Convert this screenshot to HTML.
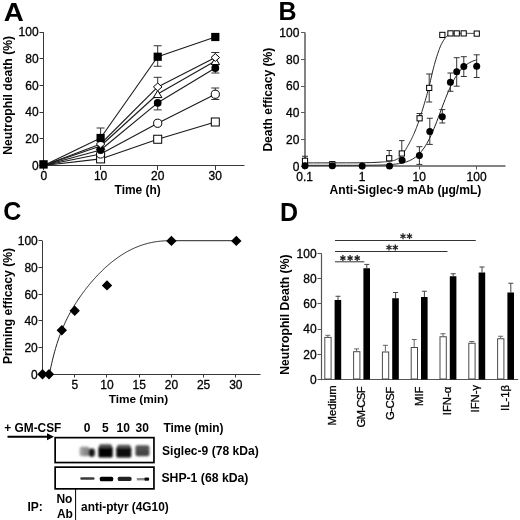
<!DOCTYPE html>
<html><head><meta charset="utf-8"><style>
html,body{margin:0;padding:0;background:#fff;}
svg{display:block;will-change:transform;}
text{font-family:"Liberation Sans", sans-serif;fill:#000;}
</style></head><body>
<svg width="520" height="520" viewBox="0 0 520 520">
<rect width="520" height="520" fill="#fff"/>
<text x="0" y="0" font-size="25" font-weight="bold" transform="translate(3.79,20.8) scale(1.11,1)">A</text>
<text x="0" y="0" font-size="25" font-weight="bold" transform="translate(278.50,19.6) scale(1.0,1)">B</text>
<text x="0" y="0" font-size="25" font-weight="bold" transform="translate(3.30,219.8) scale(1.0,1)">C</text>
<text x="0" y="0" font-size="25" font-weight="bold" transform="translate(279.90,221.1) scale(1.0,1)">D</text>
<text x="114.60" y="194.40" font-size="11.95" font-weight="bold" text-anchor="start" >Time (h)</text>
<text x="329.60" y="193.90" font-size="12.13" font-weight="bold" text-anchor="start" >Anti-Siglec-9 mAb (µg/mL)</text>
<text x="108.70" y="402.80" font-size="11.84" font-weight="bold" text-anchor="start" >Time (min)</text>
<text x="4.30" y="431.85" font-size="11.89" font-weight="bold" text-anchor="start" >+ GM-CSF</text>
<text x="163.50" y="432.20" font-size="11.92" font-weight="bold" text-anchor="start" >Time (min)</text>
<text x="162.00" y="455.10" font-size="12.09" font-weight="bold" text-anchor="start" >Siglec-9 (78 kDa)</text>
<text x="161.40" y="482.30" font-size="12.24" font-weight="bold" text-anchor="start" >SHP-1 (68 kDa)</text>
<text x="27.40" y="510.50" font-size="12.00" font-weight="bold" text-anchor="start" >IP:</text>
<text x="56.40" y="502.70" font-size="12.00" font-weight="bold" text-anchor="start" >No</text>
<text x="56.90" y="517.70" font-size="12.00" font-weight="bold" text-anchor="start" >Ab</text>
<text x="81.10" y="511.00" font-size="11.86" font-weight="bold" text-anchor="start" >anti-ptyr (4G10)</text>
<text x="0" y="0" font-size="12.17" font-weight="bold"  transform="translate(11.90,154.80) rotate(-90)">Neutrophil death (%)</text>
<text x="0" y="0" font-size="12.06" font-weight="bold"  transform="translate(272.10,151.60) rotate(-90)">Death efficacy (%)</text>
<text x="0" y="0" font-size="12.16" font-weight="bold"  transform="translate(12.10,364.10) rotate(-90)">Priming efficacy (%)</text>
<text x="0" y="0" font-size="12.16" font-weight="bold"  transform="translate(289.10,374.70) rotate(-90)">Neutrophil Death (%)</text>
<text x="0" y="0" font-size="11.3" font-weight="normal" stroke="#000" stroke-width="0.3" transform="translate(335.50,425.50) rotate(-90)">Medium</text>
<text x="0" y="0" font-size="11.3" font-weight="normal" stroke="#000" stroke-width="0.3" textLength="41.07" lengthAdjust="spacing" transform="translate(365.20,427.50) rotate(-90)">GM-CSF</text>
<text x="0" y="0" font-size="11.3" font-weight="normal" stroke="#000" stroke-width="0.3" textLength="33.15" lengthAdjust="spacing" transform="translate(393.80,420.00) rotate(-90)">G-CSF</text>
<text x="0" y="0" font-size="11.3" font-weight="normal" stroke="#000" stroke-width="0.3" transform="translate(422.50,406.00) rotate(-90)">MIF</text>
<text x="0" y="0" font-size="11.3" font-weight="normal" stroke="#000" stroke-width="0.3" transform="translate(451.40,415.20) rotate(-90)">IFN-α</text>
<text x="0" y="0" font-size="11.3" font-weight="normal" stroke="#000" stroke-width="0.3" transform="translate(479.40,412.50) rotate(-90)">IFN-γ</text>
<text x="0" y="0" font-size="11.3" font-weight="normal" stroke="#000" stroke-width="0.3" transform="translate(509.10,411.00) rotate(-90)">IL-1β</text>
<line x1="43.50" y1="32.10" x2="43.50" y2="166.00" stroke="#383838" stroke-width="1"/>
<line x1="43.00" y1="165.50" x2="244.50" y2="165.50" stroke="#383838" stroke-width="1"/>
<line x1="39.50" y1="165.50" x2="43.50" y2="165.50" stroke="#383838" stroke-width="1"/>
<text x="38.60" y="169.80" font-size="12.00" font-weight="normal" text-anchor="end" stroke="#000" stroke-width="0.3">0</text>
<line x1="39.50" y1="138.50" x2="43.50" y2="138.50" stroke="#383838" stroke-width="1"/>
<text x="38.60" y="143.12" font-size="12.00" font-weight="normal" text-anchor="end" stroke="#000" stroke-width="0.3">20</text>
<line x1="39.50" y1="112.50" x2="43.50" y2="112.50" stroke="#383838" stroke-width="1"/>
<text x="38.60" y="116.44" font-size="12.00" font-weight="normal" text-anchor="end" stroke="#000" stroke-width="0.3">40</text>
<line x1="39.50" y1="85.50" x2="43.50" y2="85.50" stroke="#383838" stroke-width="1"/>
<text x="38.60" y="89.76" font-size="12.00" font-weight="normal" text-anchor="end" stroke="#000" stroke-width="0.3">60</text>
<line x1="39.50" y1="58.50" x2="43.50" y2="58.50" stroke="#383838" stroke-width="1"/>
<text x="38.60" y="63.08" font-size="12.00" font-weight="normal" text-anchor="end" stroke="#000" stroke-width="0.3">80</text>
<line x1="39.50" y1="32.50" x2="43.50" y2="32.50" stroke="#383838" stroke-width="1"/>
<text x="38.60" y="36.40" font-size="12.00" font-weight="normal" text-anchor="end" stroke="#000" stroke-width="0.3">100</text>
<line x1="43.50" y1="165.50" x2="43.50" y2="170.00" stroke="#383838" stroke-width="1"/>
<text x="43.75" y="180.30" font-size="12.00" font-weight="normal" text-anchor="middle" stroke="#000" stroke-width="0.3">0</text>
<line x1="100.50" y1="165.50" x2="100.50" y2="170.00" stroke="#383838" stroke-width="1"/>
<text x="100.60" y="180.30" font-size="12.00" font-weight="normal" text-anchor="middle" stroke="#000" stroke-width="0.3">10</text>
<line x1="157.50" y1="165.50" x2="157.50" y2="170.00" stroke="#383838" stroke-width="1"/>
<text x="157.70" y="180.30" font-size="12.00" font-weight="normal" text-anchor="middle" stroke="#000" stroke-width="0.3">20</text>
<line x1="215.50" y1="165.50" x2="215.50" y2="170.00" stroke="#383838" stroke-width="1"/>
<text x="215.30" y="180.30" font-size="12.00" font-weight="normal" text-anchor="middle" stroke="#000" stroke-width="0.3">30</text>
<line x1="43.75" y1="165.50" x2="100.60" y2="138.00" stroke="#1a1a1a" stroke-width="1.1"/>
<line x1="100.60" y1="138.00" x2="157.70" y2="56.75" stroke="#1a1a1a" stroke-width="1.1"/>
<line x1="157.70" y1="56.75" x2="215.30" y2="37.00" stroke="#1a1a1a" stroke-width="1.1"/>
<line x1="43.75" y1="165.50" x2="100.60" y2="144.00" stroke="#1a1a1a" stroke-width="1.1"/>
<line x1="100.60" y1="144.00" x2="157.70" y2="86.90" stroke="#1a1a1a" stroke-width="1.1"/>
<line x1="157.70" y1="86.90" x2="215.30" y2="57.50" stroke="#1a1a1a" stroke-width="1.1"/>
<line x1="43.75" y1="165.50" x2="100.60" y2="146.00" stroke="#1a1a1a" stroke-width="1.1"/>
<line x1="100.60" y1="146.00" x2="157.70" y2="94.00" stroke="#1a1a1a" stroke-width="1.1"/>
<line x1="157.70" y1="94.00" x2="215.30" y2="61.00" stroke="#1a1a1a" stroke-width="1.1"/>
<line x1="43.75" y1="165.50" x2="100.60" y2="150.00" stroke="#1a1a1a" stroke-width="1.1"/>
<line x1="100.60" y1="150.00" x2="157.70" y2="102.80" stroke="#1a1a1a" stroke-width="1.1"/>
<line x1="157.70" y1="102.80" x2="215.30" y2="68.00" stroke="#1a1a1a" stroke-width="1.1"/>
<line x1="43.75" y1="165.50" x2="100.60" y2="154.00" stroke="#1a1a1a" stroke-width="1.1"/>
<line x1="100.60" y1="154.00" x2="157.70" y2="123.25" stroke="#1a1a1a" stroke-width="1.1"/>
<line x1="157.70" y1="123.25" x2="215.30" y2="94.25" stroke="#1a1a1a" stroke-width="1.1"/>
<line x1="43.75" y1="165.50" x2="100.60" y2="158.90" stroke="#1a1a1a" stroke-width="1.1"/>
<line x1="100.60" y1="158.90" x2="157.70" y2="139.25" stroke="#1a1a1a" stroke-width="1.1"/>
<line x1="157.70" y1="139.25" x2="215.30" y2="122.00" stroke="#1a1a1a" stroke-width="1.1"/>
<line x1="100.60" y1="128.00" x2="100.60" y2="138.00" stroke="#333" stroke-width="1"/>
<line x1="96.60" y1="128.00" x2="104.60" y2="128.00" stroke="#333" stroke-width="1"/>
<line x1="157.70" y1="45.75" x2="157.70" y2="56.75" stroke="#333" stroke-width="1"/>
<line x1="153.70" y1="45.75" x2="161.70" y2="45.75" stroke="#333" stroke-width="1"/>
<line x1="157.70" y1="56.75" x2="157.70" y2="66.25" stroke="#333" stroke-width="1"/>
<line x1="153.70" y1="66.25" x2="161.70" y2="66.25" stroke="#333" stroke-width="1"/>
<line x1="157.70" y1="77.30" x2="157.70" y2="86.90" stroke="#333" stroke-width="1"/>
<line x1="153.70" y1="77.30" x2="161.70" y2="77.30" stroke="#333" stroke-width="1"/>
<line x1="157.70" y1="102.80" x2="157.70" y2="109.90" stroke="#333" stroke-width="1"/>
<line x1="153.70" y1="109.90" x2="161.70" y2="109.90" stroke="#333" stroke-width="1"/>
<line x1="215.30" y1="52.50" x2="215.30" y2="57.50" stroke="#333" stroke-width="1"/>
<line x1="211.30" y1="52.50" x2="219.30" y2="52.50" stroke="#333" stroke-width="1"/>
<line x1="215.30" y1="68.00" x2="215.30" y2="73.00" stroke="#333" stroke-width="1"/>
<line x1="211.30" y1="73.00" x2="219.30" y2="73.00" stroke="#333" stroke-width="1"/>
<line x1="215.30" y1="88.00" x2="215.30" y2="94.25" stroke="#333" stroke-width="1"/>
<line x1="211.30" y1="88.00" x2="219.30" y2="88.00" stroke="#333" stroke-width="1"/>
<line x1="215.30" y1="94.25" x2="215.30" y2="99.50" stroke="#333" stroke-width="1"/>
<line x1="211.30" y1="99.50" x2="219.30" y2="99.50" stroke="#333" stroke-width="1"/>
<rect x="96.60" y="154.90" width="8" height="8" fill="#fff" stroke="#000" stroke-width="1"/>
<rect x="153.70" y="135.25" width="8" height="8" fill="#fff" stroke="#000" stroke-width="1"/>
<rect x="211.30" y="118.00" width="8" height="8" fill="#fff" stroke="#000" stroke-width="1"/>
<circle cx="100.60" cy="154.00" r="4.1" fill="#fff" stroke="#000" stroke-width="1"/>
<circle cx="157.70" cy="123.25" r="4.1" fill="#fff" stroke="#000" stroke-width="1"/>
<circle cx="215.30" cy="94.25" r="4.1" fill="#fff" stroke="#000" stroke-width="1"/>
<polygon points="100.60,142.40 104.80,149.60 96.40,149.60" fill="#fff" stroke="#000" stroke-width="1"/>
<polygon points="157.70,90.40 161.90,97.60 153.50,97.60" fill="#fff" stroke="#000" stroke-width="1"/>
<polygon points="215.30,57.40 219.50,64.60 211.10,64.60" fill="#fff" stroke="#000" stroke-width="1"/>
<circle cx="100.60" cy="150.00" r="3.9" fill="#000"/>
<circle cx="157.70" cy="102.80" r="3.9" fill="#000"/>
<circle cx="215.30" cy="68.00" r="3.9" fill="#000"/>
<polygon points="100.60,140.10 104.90,144.00 100.60,147.90 96.30,144.00" fill="#fff" stroke="#000" stroke-width="1"/>
<polygon points="157.70,83.00 162.00,86.90 157.70,90.80 153.40,86.90" fill="#fff" stroke="#000" stroke-width="1"/>
<polygon points="215.30,53.60 219.60,57.50 215.30,61.40 211.00,57.50" fill="#fff" stroke="#000" stroke-width="1"/>
<rect x="96.50" y="133.90" width="8.2" height="8.2" fill="#000"/>
<rect x="153.60" y="52.65" width="8.2" height="8.2" fill="#000"/>
<rect x="211.20" y="32.90" width="8.2" height="8.2" fill="#000"/>
<rect x="39.30" y="160.20" width="8.4" height="8.4" fill="#000"/>
<line x1="305.00" y1="32.50" x2="305.00" y2="166.80" stroke="#5a5a5a" stroke-width="1.5"/>
<line x1="304.30" y1="166.00" x2="505.50" y2="166.00" stroke="#5a5a5a" stroke-width="1.5"/>
<line x1="301.00" y1="166.50" x2="305.00" y2="166.50" stroke="#5a5a5a" stroke-width="1"/>
<text x="299.40" y="170.55" font-size="12.00" font-weight="normal" text-anchor="end" stroke="#000" stroke-width="0.3">0</text>
<line x1="301.00" y1="139.50" x2="305.00" y2="139.50" stroke="#5a5a5a" stroke-width="1"/>
<text x="299.40" y="143.80" font-size="12.00" font-weight="normal" text-anchor="end" stroke="#000" stroke-width="0.3">20</text>
<line x1="301.00" y1="112.50" x2="305.00" y2="112.50" stroke="#5a5a5a" stroke-width="1"/>
<text x="299.40" y="117.05" font-size="12.00" font-weight="normal" text-anchor="end" stroke="#000" stroke-width="0.3">40</text>
<line x1="301.00" y1="86.50" x2="305.00" y2="86.50" stroke="#5a5a5a" stroke-width="1"/>
<text x="299.40" y="90.30" font-size="12.00" font-weight="normal" text-anchor="end" stroke="#000" stroke-width="0.3">60</text>
<line x1="301.00" y1="59.50" x2="305.00" y2="59.50" stroke="#5a5a5a" stroke-width="1"/>
<text x="299.40" y="63.55" font-size="12.00" font-weight="normal" text-anchor="end" stroke="#000" stroke-width="0.3">80</text>
<line x1="301.00" y1="32.50" x2="305.00" y2="32.50" stroke="#5a5a5a" stroke-width="1"/>
<text x="299.40" y="36.80" font-size="12.00" font-weight="normal" text-anchor="end" stroke="#000" stroke-width="0.3">100</text>
<line x1="304.50" y1="166.00" x2="304.50" y2="169.50" stroke="#5a5a5a" stroke-width="1"/>
<text x="304.70" y="180.60" font-size="12.00" font-weight="normal" text-anchor="middle" stroke="#000" stroke-width="0.3">0.1</text>
<line x1="362.50" y1="166.00" x2="362.50" y2="169.50" stroke="#5a5a5a" stroke-width="1"/>
<text x="362.00" y="180.60" font-size="12.00" font-weight="normal" text-anchor="middle" stroke="#000" stroke-width="0.3">1</text>
<line x1="419.50" y1="166.00" x2="419.50" y2="169.50" stroke="#5a5a5a" stroke-width="1"/>
<text x="419.30" y="180.60" font-size="12.00" font-weight="normal" text-anchor="middle" stroke="#000" stroke-width="0.3">10</text>
<line x1="476.50" y1="166.00" x2="476.50" y2="169.50" stroke="#5a5a5a" stroke-width="1"/>
<text x="476.60" y="180.60" font-size="12.00" font-weight="normal" text-anchor="middle" stroke="#000" stroke-width="0.3">100</text>
<polyline points="305.00,162.90 313.33,162.90 321.67,162.89 330.00,162.88 338.33,162.87 346.67,162.85 355.00,162.83 363.33,162.79 371.67,162.58 380.00,162.15 381.00,162.08 381.48,162.05 381.96,162.02 382.44,161.99 382.92,161.95 383.41,161.92 383.89,161.88 384.37,161.85 384.85,161.81 385.33,161.77 385.81,161.73 386.29,161.69 386.77,161.64 387.26,161.59 387.74,161.54 388.22,161.48 388.70,161.41 389.18,161.34 389.66,161.27 390.14,161.19 390.62,161.11 391.10,161.02 391.59,160.93 392.07,160.83 392.55,160.72 393.03,160.61 393.51,160.50 393.99,160.38 394.47,160.25 394.95,160.11 395.43,159.96 395.92,159.77 396.40,159.54 396.88,159.27 397.36,158.97 397.84,158.65 398.32,158.30 398.80,157.92 399.28,157.53 399.77,157.11 400.25,156.68 400.73,156.24 401.21,155.78 401.69,155.31 402.17,154.79 402.65,154.21 403.13,153.59 403.61,152.91 404.10,152.20 404.58,151.45 405.06,150.67 405.54,149.86 406.02,149.04 406.50,148.20 406.98,147.36 407.46,146.51 407.94,145.67 408.43,144.83 408.91,143.97 409.39,143.09 409.87,142.20 410.35,141.28 410.83,140.35 411.31,139.39 411.79,138.41 412.28,137.42 412.76,136.40 413.24,135.36 413.72,134.30 414.20,133.22 414.68,132.11 415.16,130.97 415.64,129.79 416.12,128.57 416.61,127.31 417.09,126.02 417.57,124.71 418.05,123.36 418.53,122.00 419.01,120.62 419.49,119.22 419.97,117.80 420.45,116.33 420.94,114.82 421.42,113.29 421.90,111.73 422.38,110.15 422.86,108.56 423.34,106.96 423.82,105.36 424.30,103.74 424.79,102.10 425.27,100.44 425.75,98.77 426.23,97.08 426.71,95.38 427.19,93.66 427.67,91.95 428.15,90.23 428.63,88.46 429.12,86.62 429.60,84.69 430.08,82.61 430.56,80.43 431.04,78.22 431.52,76.05 432.00,73.99 432.48,72.03 432.96,70.11 433.45,68.23 433.93,66.40 434.41,64.62 434.89,62.89 435.37,61.21 435.85,59.56 436.33,57.95 436.81,56.39 437.30,54.88 437.78,53.44 438.26,52.07 438.74,50.72 439.22,49.41 439.70,48.13 440.18,46.92 440.66,45.78 441.14,44.72 441.63,43.76 442.11,42.85 442.59,41.99 443.07,41.17 443.55,40.39 444.03,39.66 444.51,38.97 444.99,38.33 445.47,37.74 445.96,37.20 446.44,36.68 446.92,36.20 447.40,35.75 447.88,35.33 448.36,34.96 448.84,34.64 449.32,34.34 449.81,34.05 450.29,33.80 450.77,33.64 451.25,33.58 451.73,33.53 452.21,33.50 452.69,33.47 453.17,33.44 453.65,33.42 454.14,33.41 454.62,33.40 455.10,33.40 455.58,33.40 456.06,33.40 456.54,33.40 457.02,33.40 457.50,33.40 457.98,33.40 458.47,33.40 458.95,33.40 459.43,33.40 459.91,33.40 460.39,33.40 460.87,33.40 461.35,33.40 461.83,33.40 462.32,33.40 462.80,33.40 463.28,33.40 463.76,33.40 464.24,33.40 464.72,33.40 465.20,33.40 465.68,33.40 466.16,33.40 466.65,33.40 467.13,33.40 467.61,33.40 468.09,33.40 468.57,33.40 469.05,33.40 469.53,33.40 470.01,33.40 470.49,33.40 470.98,33.40 471.46,33.40 471.94,33.40 472.42,33.40 472.90,33.40 473.38,33.40 473.86,33.40 474.34,33.40 474.83,33.40 475.31,33.40 475.79,33.40 476.27,33.40 476.75,33.40" fill="none" stroke="#222" stroke-width="1"/>
<polyline points="305.00,165.31 306.43,165.31 307.87,165.31 309.30,165.31 310.73,165.31 312.17,165.31 313.60,165.31 315.03,165.31 316.47,165.31 317.90,165.31 319.33,165.31 320.77,165.31 322.20,165.31 323.63,165.31 325.07,165.31 326.50,165.31 327.93,165.31 329.37,165.31 330.80,165.31 332.23,165.31 333.67,165.31 335.10,165.31 336.53,165.31 337.97,165.31 339.40,165.31 340.83,165.31 342.27,165.31 343.70,165.31 345.13,165.31 346.57,165.30 348.00,165.30 349.43,165.30 350.87,165.30 352.30,165.30 353.73,165.29 355.17,165.29 356.60,165.29 358.03,165.28 359.47,165.28 360.90,165.27 362.33,165.27 363.77,165.26 365.20,165.25 366.63,165.24 368.07,165.23 369.50,165.22 370.93,165.21 372.37,165.19 373.80,165.17 375.23,165.15 376.67,165.13 378.10,165.10 379.53,165.06 380.97,165.03 382.40,164.98 383.83,164.93 385.27,164.87 386.70,164.81 388.13,164.73 389.57,164.64 391.00,164.54 392.43,164.42 393.87,164.29 395.30,164.13 396.73,163.95 398.17,163.75 399.60,163.51 401.03,163.24 402.47,162.94 403.90,162.58 405.33,162.18 406.77,161.71 408.20,161.18 409.63,160.58 411.07,159.89 412.50,159.11 413.93,158.22 415.37,157.22 416.80,156.08 418.23,154.81 419.67,153.38 421.10,151.78 422.53,150.01 423.97,148.04 425.40,145.87 426.83,143.50 428.27,140.91 429.70,138.12 431.13,135.12 432.57,131.92 434.00,128.55 435.43,125.02 436.87,121.35 438.30,117.59 439.73,113.76 441.17,109.90 442.60,106.06 444.03,102.27 445.47,98.56 446.90,94.97 448.33,91.53 449.77,88.26 451.20,85.19 452.63,82.31 454.07,79.64 455.50,77.19 456.93,74.94 458.37,72.89 459.80,71.04 461.23,69.38 462.67,67.89 464.10,66.55 465.53,65.37 466.97,64.31 468.40,63.38 469.83,62.56 471.27,61.84 472.70,61.20 474.13,60.64 475.57,60.16 477.00,59.73" fill="none" stroke="#222" stroke-width="1"/>
<line x1="305.00" y1="156.25" x2="305.00" y2="160.80" stroke="#333" stroke-width="1"/>
<line x1="302.00" y1="156.25" x2="308.00" y2="156.25" stroke="#333" stroke-width="1"/>
<line x1="389.20" y1="150.50" x2="389.20" y2="158.25" stroke="#333" stroke-width="1"/>
<line x1="386.50" y1="150.50" x2="391.90" y2="150.50" stroke="#333" stroke-width="1"/>
<line x1="401.80" y1="140.60" x2="401.80" y2="153.50" stroke="#333" stroke-width="1"/>
<line x1="399.10" y1="140.60" x2="404.50" y2="140.60" stroke="#333" stroke-width="1"/>
<line x1="419.60" y1="113.50" x2="419.60" y2="118.30" stroke="#333" stroke-width="1"/>
<line x1="416.60" y1="113.50" x2="422.60" y2="113.50" stroke="#333" stroke-width="1"/>
<line x1="429.20" y1="74.00" x2="429.20" y2="87.90" stroke="#333" stroke-width="1"/>
<line x1="426.20" y1="74.00" x2="432.20" y2="74.00" stroke="#333" stroke-width="1"/>
<line x1="429.20" y1="87.90" x2="429.20" y2="102.00" stroke="#333" stroke-width="1"/>
<line x1="426.20" y1="102.00" x2="432.20" y2="102.00" stroke="#333" stroke-width="1"/>
<line x1="419.40" y1="146.70" x2="419.40" y2="155.60" stroke="#333" stroke-width="1"/>
<line x1="416.40" y1="146.70" x2="422.40" y2="146.70" stroke="#333" stroke-width="1"/>
<line x1="419.40" y1="155.60" x2="419.40" y2="164.40" stroke="#333" stroke-width="1"/>
<line x1="416.40" y1="164.40" x2="422.40" y2="164.40" stroke="#333" stroke-width="1"/>
<line x1="429.80" y1="118.25" x2="429.80" y2="131.40" stroke="#333" stroke-width="1"/>
<line x1="426.80" y1="118.25" x2="432.80" y2="118.25" stroke="#333" stroke-width="1"/>
<line x1="429.80" y1="131.40" x2="429.80" y2="144.40" stroke="#333" stroke-width="1"/>
<line x1="426.80" y1="144.40" x2="432.80" y2="144.40" stroke="#333" stroke-width="1"/>
<line x1="442.30" y1="109.60" x2="442.30" y2="116.70" stroke="#333" stroke-width="1"/>
<line x1="439.30" y1="109.60" x2="445.30" y2="109.60" stroke="#333" stroke-width="1"/>
<line x1="442.30" y1="116.70" x2="442.30" y2="123.00" stroke="#333" stroke-width="1"/>
<line x1="439.30" y1="123.00" x2="445.30" y2="123.00" stroke="#333" stroke-width="1"/>
<line x1="450.40" y1="73.00" x2="450.40" y2="82.30" stroke="#333" stroke-width="1"/>
<line x1="447.40" y1="73.00" x2="453.40" y2="73.00" stroke="#333" stroke-width="1"/>
<line x1="450.40" y1="82.30" x2="450.40" y2="91.30" stroke="#333" stroke-width="1"/>
<line x1="447.40" y1="91.30" x2="453.40" y2="91.30" stroke="#333" stroke-width="1"/>
<line x1="456.70" y1="57.70" x2="456.70" y2="71.70" stroke="#333" stroke-width="1"/>
<line x1="453.70" y1="57.70" x2="459.70" y2="57.70" stroke="#333" stroke-width="1"/>
<line x1="456.70" y1="71.70" x2="456.70" y2="86.20" stroke="#333" stroke-width="1"/>
<line x1="453.70" y1="86.20" x2="459.70" y2="86.20" stroke="#333" stroke-width="1"/>
<line x1="463.80" y1="56.70" x2="463.80" y2="66.50" stroke="#333" stroke-width="1"/>
<line x1="460.80" y1="56.70" x2="466.80" y2="56.70" stroke="#333" stroke-width="1"/>
<line x1="463.80" y1="66.50" x2="463.80" y2="76.50" stroke="#333" stroke-width="1"/>
<line x1="460.80" y1="76.50" x2="466.80" y2="76.50" stroke="#333" stroke-width="1"/>
<line x1="476.70" y1="54.80" x2="476.70" y2="66.30" stroke="#333" stroke-width="1"/>
<line x1="473.70" y1="54.80" x2="479.70" y2="54.80" stroke="#333" stroke-width="1"/>
<line x1="476.70" y1="66.30" x2="476.70" y2="77.50" stroke="#333" stroke-width="1"/>
<line x1="473.70" y1="77.50" x2="479.70" y2="77.50" stroke="#333" stroke-width="1"/>
<rect x="302.40" y="158.20" width="5.2" height="5.2" fill="#fff" stroke="#000" stroke-width="1"/>
<rect x="329.70" y="161.60" width="5.2" height="5.2" fill="#fff" stroke="#000" stroke-width="1"/>
<rect x="386.60" y="155.65" width="5.2" height="5.2" fill="#fff" stroke="#000" stroke-width="1"/>
<rect x="399.20" y="150.90" width="5.2" height="5.2" fill="#fff" stroke="#000" stroke-width="1"/>
<rect x="417.00" y="115.70" width="5.2" height="5.2" fill="#fff" stroke="#000" stroke-width="1"/>
<rect x="426.60" y="85.30" width="5.2" height="5.2" fill="#fff" stroke="#000" stroke-width="1"/>
<rect x="439.75" y="32.30" width="5.2" height="5.2" fill="#fff" stroke="#000" stroke-width="1"/>
<rect x="447.85" y="30.80" width="5.2" height="5.2" fill="#fff" stroke="#000" stroke-width="1"/>
<rect x="454.15" y="30.80" width="5.2" height="5.2" fill="#fff" stroke="#000" stroke-width="1"/>
<rect x="461.10" y="30.80" width="5.2" height="5.2" fill="#fff" stroke="#000" stroke-width="1"/>
<rect x="474.15" y="31.00" width="5.2" height="5.2" fill="#fff" stroke="#000" stroke-width="1"/>
<circle cx="305.00" cy="165.80" r="3.5" fill="#000"/>
<circle cx="332.30" cy="165.80" r="3.5" fill="#000"/>
<circle cx="362.20" cy="166.00" r="3.5" fill="#000"/>
<circle cx="389.50" cy="166.00" r="3.5" fill="#000"/>
<circle cx="402.10" cy="160.20" r="3.5" fill="#000"/>
<circle cx="419.40" cy="155.60" r="3.5" fill="#000"/>
<circle cx="429.80" cy="131.40" r="3.5" fill="#000"/>
<circle cx="442.30" cy="116.70" r="3.5" fill="#000"/>
<circle cx="450.40" cy="82.30" r="3.5" fill="#000"/>
<circle cx="456.70" cy="71.70" r="3.5" fill="#000"/>
<circle cx="463.80" cy="66.50" r="3.5" fill="#000"/>
<circle cx="476.70" cy="66.30" r="3.5" fill="#000"/>
<line x1="42.50" y1="241.00" x2="42.50" y2="374.80" stroke="#383838" stroke-width="1"/>
<line x1="42.00" y1="374.50" x2="260.50" y2="374.50" stroke="#383838" stroke-width="1"/>
<line x1="38.50" y1="374.50" x2="42.50" y2="374.50" stroke="#383838" stroke-width="1"/>
<text x="37.80" y="378.60" font-size="12.00" font-weight="normal" text-anchor="end" stroke="#000" stroke-width="0.3">0</text>
<line x1="38.50" y1="347.50" x2="42.50" y2="347.50" stroke="#383838" stroke-width="1"/>
<text x="37.80" y="351.94" font-size="12.00" font-weight="normal" text-anchor="end" stroke="#000" stroke-width="0.3">20</text>
<line x1="38.50" y1="320.50" x2="42.50" y2="320.50" stroke="#383838" stroke-width="1"/>
<text x="37.80" y="325.28" font-size="12.00" font-weight="normal" text-anchor="end" stroke="#000" stroke-width="0.3">40</text>
<line x1="38.50" y1="294.50" x2="42.50" y2="294.50" stroke="#383838" stroke-width="1"/>
<text x="37.80" y="298.62" font-size="12.00" font-weight="normal" text-anchor="end" stroke="#000" stroke-width="0.3">60</text>
<line x1="38.50" y1="267.50" x2="42.50" y2="267.50" stroke="#383838" stroke-width="1"/>
<text x="37.80" y="271.96" font-size="12.00" font-weight="normal" text-anchor="end" stroke="#000" stroke-width="0.3">80</text>
<line x1="38.50" y1="240.50" x2="42.50" y2="240.50" stroke="#383838" stroke-width="1"/>
<text x="37.80" y="245.30" font-size="12.00" font-weight="normal" text-anchor="end" stroke="#000" stroke-width="0.3">100</text>
<line x1="74.50" y1="374.50" x2="74.50" y2="377.50" stroke="#383838" stroke-width="1"/>
<text x="74.72" y="389.20" font-size="12.00" font-weight="normal" text-anchor="middle" stroke="#000" stroke-width="0.3">5</text>
<line x1="106.50" y1="374.50" x2="106.50" y2="377.50" stroke="#383838" stroke-width="1"/>
<text x="106.95" y="389.20" font-size="12.00" font-weight="normal" text-anchor="middle" stroke="#000" stroke-width="0.3">10</text>
<line x1="139.50" y1="374.50" x2="139.50" y2="377.50" stroke="#383838" stroke-width="1"/>
<text x="139.18" y="389.20" font-size="12.00" font-weight="normal" text-anchor="middle" stroke="#000" stroke-width="0.3">15</text>
<line x1="171.50" y1="374.50" x2="171.50" y2="377.50" stroke="#383838" stroke-width="1"/>
<text x="171.40" y="389.20" font-size="12.00" font-weight="normal" text-anchor="middle" stroke="#000" stroke-width="0.3">20</text>
<line x1="203.50" y1="374.50" x2="203.50" y2="377.50" stroke="#383838" stroke-width="1"/>
<text x="203.62" y="389.20" font-size="12.00" font-weight="normal" text-anchor="middle" stroke="#000" stroke-width="0.3">25</text>
<line x1="235.50" y1="374.50" x2="235.50" y2="377.50" stroke="#383838" stroke-width="1"/>
<text x="235.85" y="389.20" font-size="12.00" font-weight="normal" text-anchor="middle" stroke="#000" stroke-width="0.3">30</text>
<polyline points="49.40,374.30 50.17,370.47 50.93,366.83 51.70,363.38 52.47,360.11 53.23,357.00 54.00,354.03 54.77,351.21 55.53,348.52 56.30,345.94 57.07,343.48 57.83,341.12 58.60,338.85 59.37,336.68 60.13,334.58 60.90,332.57 61.67,330.63 62.43,328.75 63.20,326.93 63.97,325.18 64.73,323.48 65.50,321.82 66.27,320.22 67.03,318.66 67.80,317.14 68.57,315.65 69.33,314.21 70.10,312.80 70.87,311.42 71.63,310.07 72.40,308.75 73.17,307.45 73.93,306.18 74.70,304.93 75.47,303.71 76.23,302.51 77.00,301.33 77.77,300.17 78.53,299.02 79.30,297.90 80.07,296.79 80.83,295.70 81.60,294.63 82.37,293.57 83.13,292.52 83.90,291.49 84.67,290.48 85.43,289.48 86.20,288.49 86.97,287.52 87.73,286.55 88.50,285.60 89.27,284.67 90.03,283.74 90.80,282.83 91.57,281.93 92.33,281.04 93.10,280.16 93.87,279.30 94.63,278.44 95.40,277.60 96.17,276.76 96.93,275.94 97.70,275.13 98.47,274.33 99.23,273.54 100.00,272.76 100.77,271.99 101.53,271.24 102.30,270.49 103.07,269.75 103.83,269.02 104.60,268.31 105.37,267.60 106.13,266.91 106.90,266.22 107.67,265.54 108.43,264.88 109.20,264.22 109.97,263.58 110.73,262.94 111.50,262.32 112.27,261.70 113.03,261.09 113.80,260.50 114.57,259.91 115.33,259.34 116.10,258.77 116.87,258.21 117.63,257.66 118.40,257.13 119.17,256.60 119.93,256.08 120.70,255.57 121.47,255.07 122.23,254.58 123.00,254.10 123.77,253.63 124.53,253.16 125.30,252.71 126.07,252.27 126.83,251.83 127.60,251.41 128.37,250.99 129.13,250.58 129.90,250.19 130.67,249.80 131.43,249.42 132.20,249.05 132.97,248.68 133.73,248.33 134.50,247.99 135.27,247.65 136.03,247.32 136.80,247.01 137.57,246.70 138.33,246.40 139.10,246.10 139.87,245.82 140.63,245.54 141.40,245.28 142.17,245.02 142.93,244.77 143.70,244.53 144.47,244.29 145.23,244.07 146.00,243.85 146.77,243.64 147.53,243.44 148.30,243.24 149.07,243.06 149.83,242.88 150.60,242.71 151.37,242.55 152.13,242.39 152.90,242.24 153.67,242.10 154.43,241.97 155.20,241.84 155.97,241.73 156.73,241.61 157.50,241.51 158.27,241.41 159.03,241.32 159.80,241.24 160.57,241.16 161.33,241.09 162.10,241.03 162.87,240.97 163.63,240.92 164.40,240.87 165.17,240.83 165.93,240.80 166.70,240.77 167.47,240.75 168.23,240.73 169.00,240.71 169.77,240.71 170.53,240.70 171.30,240.70 236.3,240.7" fill="none" stroke="#222" stroke-width="1"/>
<polygon points="42.50,369.10 47.70,374.30 42.50,379.50 37.30,374.30" fill="#000"/>
<polygon points="49.00,369.10 54.20,374.30 49.00,379.50 43.80,374.30" fill="#000"/>
<polygon points="61.80,325.00 67.00,330.20 61.80,335.40 56.60,330.20" fill="#000"/>
<polygon points="74.70,305.60 79.90,310.80 74.70,316.00 69.50,310.80" fill="#000"/>
<polygon points="107.00,280.20 112.20,285.40 107.00,290.60 101.80,285.40" fill="#000"/>
<polygon points="171.40,235.70 176.60,240.90 171.40,246.10 166.20,240.90" fill="#000"/>
<polygon points="236.30,235.70 241.50,240.90 236.30,246.10 231.10,240.90" fill="#000"/>
<line x1="321.50" y1="253.40" x2="321.50" y2="380.20" stroke="#555" stroke-width="1.2"/>
<line x1="321.00" y1="379.50" x2="518.20" y2="379.50" stroke="#555" stroke-width="1.2"/>
<line x1="317.50" y1="379.50" x2="321.50" y2="379.50" stroke="#555" stroke-width="1"/>
<text x="316.60" y="384.00" font-size="12.00" font-weight="normal" text-anchor="end" stroke="#000" stroke-width="0.3">0</text>
<line x1="317.50" y1="354.50" x2="321.50" y2="354.50" stroke="#555" stroke-width="1"/>
<text x="316.60" y="358.74" font-size="12.00" font-weight="normal" text-anchor="end" stroke="#000" stroke-width="0.3">20</text>
<line x1="317.50" y1="329.50" x2="321.50" y2="329.50" stroke="#555" stroke-width="1"/>
<text x="316.60" y="333.48" font-size="12.00" font-weight="normal" text-anchor="end" stroke="#000" stroke-width="0.3">40</text>
<line x1="317.50" y1="303.50" x2="321.50" y2="303.50" stroke="#555" stroke-width="1"/>
<text x="316.60" y="308.22" font-size="12.00" font-weight="normal" text-anchor="end" stroke="#000" stroke-width="0.3">60</text>
<line x1="317.50" y1="278.50" x2="321.50" y2="278.50" stroke="#555" stroke-width="1"/>
<text x="316.60" y="282.96" font-size="12.00" font-weight="normal" text-anchor="end" stroke="#000" stroke-width="0.3">80</text>
<line x1="317.50" y1="253.50" x2="321.50" y2="253.50" stroke="#555" stroke-width="1"/>
<text x="316.60" y="257.70" font-size="12.00" font-weight="normal" text-anchor="end" stroke="#000" stroke-width="0.3">100</text>
<line x1="327.80" y1="335.30" x2="327.80" y2="336.90" stroke="#666" stroke-width="1"/>
<line x1="325.30" y1="335.30" x2="330.30" y2="335.30" stroke="#666" stroke-width="1"/>
<rect x="324.80" y="337.40" width="6.3" height="41.60" fill="#fff" stroke="#4a4a4a" stroke-width="1"/>
<line x1="338.00" y1="296.25" x2="338.00" y2="300.00" stroke="#444" stroke-width="1"/>
<line x1="335.50" y1="296.25" x2="340.50" y2="296.25" stroke="#444" stroke-width="1"/>
<rect x="334.60" y="300.00" width="6.6" height="79.50" fill="#000"/>
<line x1="356.60" y1="348.90" x2="356.60" y2="351.20" stroke="#666" stroke-width="1"/>
<line x1="354.10" y1="348.90" x2="359.10" y2="348.90" stroke="#666" stroke-width="1"/>
<rect x="353.60" y="351.70" width="6.3" height="27.30" fill="#fff" stroke="#4a4a4a" stroke-width="1"/>
<line x1="366.80" y1="264.40" x2="366.80" y2="268.25" stroke="#444" stroke-width="1"/>
<line x1="364.30" y1="264.40" x2="369.30" y2="264.40" stroke="#444" stroke-width="1"/>
<rect x="363.40" y="268.25" width="6.6" height="111.25" fill="#000"/>
<line x1="385.40" y1="345.30" x2="385.40" y2="351.50" stroke="#666" stroke-width="1"/>
<line x1="382.90" y1="345.30" x2="387.90" y2="345.30" stroke="#666" stroke-width="1"/>
<rect x="382.40" y="352.00" width="6.3" height="27.00" fill="#fff" stroke="#4a4a4a" stroke-width="1"/>
<line x1="395.60" y1="292.50" x2="395.60" y2="298.25" stroke="#444" stroke-width="1"/>
<line x1="393.10" y1="292.50" x2="398.10" y2="292.50" stroke="#444" stroke-width="1"/>
<rect x="392.20" y="298.25" width="6.6" height="81.25" fill="#000"/>
<line x1="414.20" y1="339.50" x2="414.20" y2="347.00" stroke="#666" stroke-width="1"/>
<line x1="411.70" y1="339.50" x2="416.70" y2="339.50" stroke="#666" stroke-width="1"/>
<rect x="411.20" y="347.50" width="6.3" height="31.50" fill="#fff" stroke="#4a4a4a" stroke-width="1"/>
<line x1="424.40" y1="291.25" x2="424.40" y2="297.00" stroke="#444" stroke-width="1"/>
<line x1="421.90" y1="291.25" x2="426.90" y2="291.25" stroke="#444" stroke-width="1"/>
<rect x="421.00" y="297.00" width="6.6" height="82.50" fill="#000"/>
<line x1="443.00" y1="333.75" x2="443.00" y2="336.25" stroke="#666" stroke-width="1"/>
<line x1="440.50" y1="333.75" x2="445.50" y2="333.75" stroke="#666" stroke-width="1"/>
<rect x="440.00" y="336.75" width="6.3" height="42.25" fill="#fff" stroke="#4a4a4a" stroke-width="1"/>
<line x1="453.20" y1="273.75" x2="453.20" y2="276.25" stroke="#444" stroke-width="1"/>
<line x1="450.70" y1="273.75" x2="455.70" y2="273.75" stroke="#444" stroke-width="1"/>
<rect x="449.80" y="276.25" width="6.6" height="103.25" fill="#000"/>
<line x1="471.80" y1="341.50" x2="471.80" y2="342.75" stroke="#666" stroke-width="1"/>
<line x1="469.30" y1="341.50" x2="474.30" y2="341.50" stroke="#666" stroke-width="1"/>
<rect x="468.80" y="343.25" width="6.3" height="35.75" fill="#fff" stroke="#4a4a4a" stroke-width="1"/>
<line x1="482.00" y1="267.00" x2="482.00" y2="272.50" stroke="#444" stroke-width="1"/>
<line x1="479.50" y1="267.00" x2="484.50" y2="267.00" stroke="#444" stroke-width="1"/>
<rect x="478.60" y="272.50" width="6.6" height="107.00" fill="#000"/>
<line x1="500.60" y1="336.25" x2="500.60" y2="338.25" stroke="#666" stroke-width="1"/>
<line x1="498.10" y1="336.25" x2="503.10" y2="336.25" stroke="#666" stroke-width="1"/>
<rect x="497.60" y="338.75" width="6.3" height="40.25" fill="#fff" stroke="#4a4a4a" stroke-width="1"/>
<line x1="510.80" y1="283.25" x2="510.80" y2="292.50" stroke="#444" stroke-width="1"/>
<line x1="508.30" y1="283.25" x2="513.30" y2="283.25" stroke="#444" stroke-width="1"/>
<rect x="507.40" y="292.50" width="6.6" height="87.00" fill="#000"/>
<line x1="335.00" y1="240.50" x2="475.75" y2="240.50" stroke="#333" stroke-width="1"/>
<line x1="335.00" y1="251.50" x2="447.50" y2="251.50" stroke="#333" stroke-width="1"/>
<line x1="335.00" y1="261.80" x2="364.30" y2="261.80" stroke="#333" stroke-width="1"/>
<line x1="342.90" y1="255.10" x2="342.90" y2="261.10" stroke="#222" stroke-width="1.3"/>
<line x1="340.30" y1="256.60" x2="345.50" y2="259.60" stroke="#222" stroke-width="1.3"/>
<line x1="345.50" y1="256.60" x2="340.30" y2="259.60" stroke="#222" stroke-width="1.3"/>
<line x1="350.10" y1="255.10" x2="350.10" y2="261.10" stroke="#222" stroke-width="1.3"/>
<line x1="347.50" y1="256.60" x2="352.70" y2="259.60" stroke="#222" stroke-width="1.3"/>
<line x1="352.70" y1="256.60" x2="347.50" y2="259.60" stroke="#222" stroke-width="1.3"/>
<line x1="357.20" y1="255.10" x2="357.20" y2="261.10" stroke="#222" stroke-width="1.3"/>
<line x1="354.60" y1="256.60" x2="359.80" y2="259.60" stroke="#222" stroke-width="1.3"/>
<line x1="359.80" y1="256.60" x2="354.60" y2="259.60" stroke="#222" stroke-width="1.3"/>
<line x1="389.00" y1="244.50" x2="389.00" y2="250.50" stroke="#222" stroke-width="1.3"/>
<line x1="386.40" y1="246.00" x2="391.60" y2="249.00" stroke="#222" stroke-width="1.3"/>
<line x1="391.60" y1="246.00" x2="386.40" y2="249.00" stroke="#222" stroke-width="1.3"/>
<line x1="395.30" y1="244.50" x2="395.30" y2="250.50" stroke="#222" stroke-width="1.3"/>
<line x1="392.70" y1="246.00" x2="397.90" y2="249.00" stroke="#222" stroke-width="1.3"/>
<line x1="397.90" y1="246.00" x2="392.70" y2="249.00" stroke="#222" stroke-width="1.3"/>
<line x1="403.00" y1="233.20" x2="403.00" y2="239.20" stroke="#222" stroke-width="1.3"/>
<line x1="400.40" y1="234.70" x2="405.60" y2="237.70" stroke="#222" stroke-width="1.3"/>
<line x1="405.60" y1="234.70" x2="400.40" y2="237.70" stroke="#222" stroke-width="1.3"/>
<line x1="409.50" y1="233.20" x2="409.50" y2="239.20" stroke="#222" stroke-width="1.3"/>
<line x1="406.90" y1="234.70" x2="412.10" y2="237.70" stroke="#222" stroke-width="1.3"/>
<line x1="412.10" y1="234.70" x2="406.90" y2="237.70" stroke="#222" stroke-width="1.3"/>
<line x1="7.5" y1="436.75" x2="49" y2="436.75" stroke="#000" stroke-width="1.8"/>
<polygon points="54,436.75 47,433.2 47,440.3" fill="#000"/>
<text x="87.10" y="431.80" font-size="12.00" font-weight="bold" text-anchor="middle" >0</text>
<text x="105.45" y="431.80" font-size="12.00" font-weight="bold" text-anchor="middle" >5</text>
<text x="123.20" y="431.80" font-size="12.00" font-weight="bold" text-anchor="middle" >10</text>
<text x="142.20" y="431.80" font-size="12.00" font-weight="bold" text-anchor="middle" >30</text>
<rect x="55.15" y="437.65" width="98.8" height="24.9" fill="#fff" stroke="#000" stroke-width="1.7"/>
<rect x="55.15" y="467.15" width="98.8" height="21.7" fill="#fff" stroke="#000" stroke-width="1.7"/>
<line x1="75.60" y1="489.00" x2="75.60" y2="520.00" stroke="#000" stroke-width="1"/>
<defs><filter id="bl" x="-50%" y="-50%" width="200%" height="200%"><feGaussianBlur stdDeviation="1.15"/></filter>
<filter id="bl2" x="-50%" y="-50%" width="200%" height="200%"><feGaussianBlur stdDeviation="0.7"/></filter></defs>
<g filter="url(#bl)">
<rect x="79.6" y="446.4" width="10" height="9.8" rx="2.5" fill="#a4a4a4"/>
<rect x="83" y="448" width="6" height="8" rx="2" fill="#8c8c8c"/>
<rect x="88.6" y="448.6" width="6.2" height="8.2" rx="2.2" fill="#151515"/>
<rect x="98.4" y="446.6" width="14.3" height="10.9" rx="1.5" fill="#000"/>
<rect x="99" y="444.2" width="13" height="3.6" rx="1.8" fill="#505050"/>
<rect x="116.3" y="446.8" width="15" height="10.6" rx="1.5" fill="#080808"/>
<rect x="117" y="444.8" width="13.6" height="3.2" rx="1.8" fill="#555"/>
<rect x="135.4" y="445.3" width="14" height="11" rx="2" fill="#555"/>
<rect x="136" y="450" width="13" height="6" rx="2" fill="#444"/>
</g>
<g filter="url(#bl2)">
<rect x="80.3" y="477.3" width="14.2" height="2.4" rx="1" fill="#3a3a3a"/>
<rect x="99.8" y="476.7" width="13.4" height="4.6" rx="1.5" fill="#000"/>
<rect x="117.8" y="476.8" width="13.7" height="4.3" rx="1.5" fill="#222"/>
<rect x="136.8" y="478" width="8.5" height="2.4" fill="#8a8a8a"/>
<rect x="144.5" y="477.4" width="4.6" height="3.4" rx="1" fill="#111"/>
</g>
</svg></body></html>
